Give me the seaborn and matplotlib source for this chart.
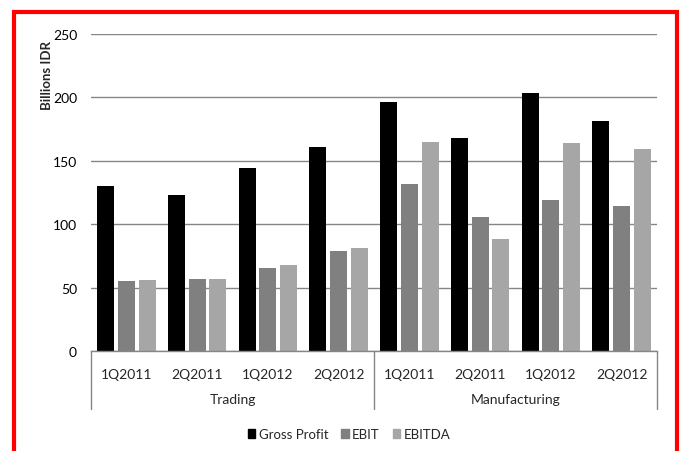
import matplotlib
matplotlib.use("Agg")
import matplotlib.pyplot as plt
import seaborn as sns
import pandas as pd
from matplotlib.patches import Rectangle
from matplotlib.lines import Line2D

groups = ["Trading", "Manufacturing"]
quarters = ["1Q2011", "2Q2011", "1Q2012", "2Q2012"]
series = ["Gross Profit", "EBIT", "EBITDA"]
gross_profit = [130, 123, 144.5, 161, 196.5, 168, 203.5, 181.5]
ebit = [55, 57, 65.5, 79, 131.5, 105.5, 119, 114.5]
ebitda = [56, 57, 68, 81, 165, 88.5, 164, 159]
colors = ["#000000", "#808080", "#A6A6A6"]

xcats = [f"{g}|{q}" for g in groups for q in quarters]
rows = []
for name, vals in zip(series, [gross_profit, ebit, ebitda]):
    for xc, v in zip(xcats, vals):
        rows.append({"x": xc, "series": name, "value": v})
df = pd.DataFrame(rows)

sns.set_theme(style="white")
plt.rcParams["font.family"] = ["Lato", "DejaVu Sans"]

W, H = 682, 452
fig = plt.figure(figsize=(W / 100, H / 100), dpi=100)
L, R, T, B = 91, 657, 35, 352
ax = fig.add_axes([L / W, 1 - B / H, (R - L) / W, (B - T) / H])

sns.barplot(data=df, x="x", y="value", hue="series", order=xcats,
            hue_order=series, palette=colors, width=0.88, gap=0.18,
            saturation=1, ax=ax, legend=False, edgecolor="none")

ax.set_ylim(0, 250)
ax.set_xlim(-0.5, len(xcats) - 0.5)
ax.set_yticks([0, 50, 100, 150, 200, 250])
ax.yaxis.grid(True, color="#868686", linewidth=1)
ax.set_axisbelow(True)
for s in ["left", "right", "top"]:
    ax.spines[s].set_visible(False)
ax.spines["bottom"].set_color("#868686")
ax.spines["bottom"].set_linewidth(1)
ax.tick_params(axis="y", labelsize=10, colors="#000000", pad=10, length=0)
ax.set_xticks(range(len(xcats)))
ax.set_xticklabels(quarters * len(groups), fontsize=10)
ax.tick_params(axis="x", length=0, pad=12)
ax.set_xlabel("")
ax.set_ylabel("")

# group labels and separators
for px in [L, 374, R]:
    fig.add_artist(Line2D([px / W, px / W], [1 - B / H, 1 - 410 / H],
                          color="#868686", linewidth=1))
for gi, g in enumerate(groups):
    cx = L + (R - L) * (gi * 4 + 2) / 8
    fig.text(cx / W, 1 - 400 / H, g, ha="center", va="center", fontsize=10)

fig.text(47 / W, 1 - 76 / H, "Billions IDR", rotation=90, ha="center",
         va="center", fontsize=9.5, fontweight="bold")

handles = [Rectangle((0, 0), 1, 1, color=c) for c in colors]
fig.legend(handles, series, loc="center", bbox_to_anchor=(349 / W, 1 - 435 / H),
           ncol=3, frameon=False, fontsize=9.5, handlelength=0.55,
           handleheight=0.7, handletextpad=0.25, columnspacing=1.0)

fig.add_artist(Rectangle((14.5 / W, -0.1), (677 - 14.5) / W, (1 - 13 / H) + 0.1,
                         fill=False, edgecolor="#FF0000", linewidth=3,
                         transform=fig.transFigure))

fig.savefig("out.png", dpi=100)
